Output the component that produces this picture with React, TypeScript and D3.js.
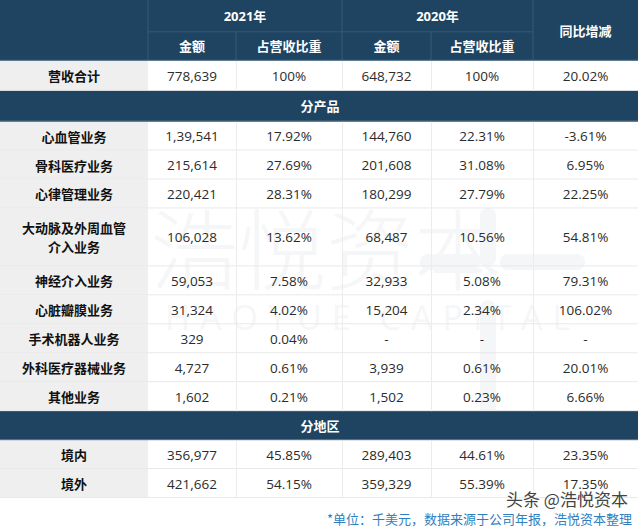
import React from 'react';
import * as d3 from 'd3';

const yearLabels = ['2021年', '2020年'];
const subHeaders = ['金额', '占营收比重'];
const changeHeader = '同比增减';

const totalLabel = '营收合计';
const totalRow = ['778,639', '100%', '648,732', '100%', '20.02%'];

const productSection = '分产品';
const products = ['心血管业务', '骨科医疗业务', '心律管理业务', '大动脉及外周血管|介入业务', '神经介入业务', '心脏瓣膜业务', '手术机器人业务', '外科医疗器械业务', '其他业务'];
const prodAmt2021 = ['1,39,541', '215,614', '220,421', '106,028', '59,053', '31,324', '329', '4,727', '1,602'];
const prodShare2021 = ['17.92%', '27.69%', '28.31%', '13.62%', '7.58%', '4.02%', '0.04%', '0.61%', '0.21%'];
const prodAmt2020 = ['144,760', '201,608', '180,299', '68,487', '32,933', '15,204', '-', '3,939', '1,502'];
const prodShare2020 = ['22.31%', '31.08%', '27.79%', '10.56%', '5.08%', '2.34%', '-', '0.61%', '0.23%'];
const prodChange = ['-3.61%', '6.95%', '22.25%', '54.81%', '79.31%', '106.02%', '-', '20.01%', '6.66%'];

const regionSection = '分地区';
const regions = ['境内', '境外'];
const regAmt2021 = ['356,977', '421,662'];
const regShare2021 = ['45.85%', '54.15%'];
const regAmt2020 = ['289,403', '359,329'];
const regShare2020 = ['44.61%', '55.39%'];
const regChange = ['23.35%', '17.35%'];

const footnote = '*单位：千美元，数据来源于公司年报，浩悦资本整理';

const W = 640;
const H = 529;
const NAVY = '#1e4461';
const FONT = '"Open Sans", "Noto Sans CJK SC", sans-serif';
const CJK = '"Noto Sans CJK SC", sans-serif';

type Row = { kind: 'h1' | 'h2' | 'total' | 'section' | 'data'; label: string; cells?: string[]; units: number };

export default function App() {
  const rows: Row[] = [
    { kind: 'h1', label: '', units: 1.1 },
    { kind: 'h2', label: '', units: 1.0 },
    { kind: 'total', label: totalLabel, cells: totalRow, units: 1.04 },
    { kind: 'section', label: productSection, units: 1.06 },
    ...products.map((p, i) => ({
      kind: 'data' as const,
      label: p,
      cells: [prodAmt2021[i], prodShare2021[i], prodAmt2020[i], prodShare2020[i], prodChange[i]],
      units: p.includes('|') ? 2 : 1,
    })),
    { kind: 'section', label: regionSection, units: 1 },
    ...regions.map((r, i) => ({
      kind: 'data' as const,
      label: r,
      cells: [regAmt2021[i], regShare2021[i], regAmt2020[i], regShare2020[i], regChange[i]],
      units: 1,
    })),
  ];

  const cum = [0];
  rows.forEach((r) => cum.push(cum[cum.length - 1] + r.units));
  const y = d3.scaleLinear([0, cum[cum.length - 1]], [0, 498]);

  // column edges: label col + 5 value cols
  const colEdges = [0, 148, 236, 342, 431, 533, 638];
  const cx = (i: number) => (colEdges[i] + colEdges[i + 1]) / 2;

  const top = (i: number) => y(cum[i]);
  const bot = (i: number) => y(cum[i + 1]);

  return (
    <svg width={W} height={H} style={{ position: 'absolute', left: 0, top: 0, background: '#fff' }} fontFamily={FONT}>
      <rect width={W} height={H} fill="#fff" />
      {/* header block */}
      <rect x={0} y={0} width={colEdges[6]} height={bot(1)} fill={NAVY} />
      <g stroke="#36597a" strokeWidth={1}>
        <line x1={colEdges[1]} x2={colEdges[1]} y1={0} y2={bot(1)} />
        <line x1={colEdges[3]} x2={colEdges[3]} y1={0} y2={bot(1)} />
        <line x1={colEdges[5]} x2={colEdges[5]} y1={0} y2={bot(1)} />
        <line x1={colEdges[2]} x2={colEdges[2]} y1={top(1)} y2={bot(1)} />
        <line x1={colEdges[4]} x2={colEdges[4]} y1={top(1)} y2={bot(1)} />
        <line x1={colEdges[1]} x2={colEdges[5]} y1={top(1)} y2={top(1)} />
      </g>
      <g fill="#fff" fontWeight={700} fontSize={13} textAnchor="middle" dominantBaseline="central">
        {yearLabels.map((t, i) => (
          <text key={t} x={(colEdges[1 + i * 2] + colEdges[3 + i * 2]) / 2} y={(top(0) + bot(0)) / 2}>{t}</text>
        ))}
        {[0, 1, 2, 3].map((i) => (
          <text key={i} x={cx(i + 1)} y={(top(1) + bot(1)) / 2}>{subHeaders[i % 2]}</text>
        ))}
        <text x={cx(5)} y={bot(0) - 1}>{changeHeader}</text>
      </g>

      {/* watermark, drawn under the cell text */}
      {rows.map((r, i) => {
        if (r.kind !== 'data' && r.kind !== 'total') return null;
        return (
          <g key={`bg${i}`}>
            <rect x={0} y={top(i)} width={colEdges[1]} height={bot(i) - top(i)} fill="#efefef" />
            <rect x={colEdges[1]} y={top(i)} width={colEdges[6] - colEdges[1]} height={bot(i) - top(i)} fill="#fff" />
          </g>
        );
      })}
      <g opacity={0.045} fill="#1e4461">
        <text x={150} y={283} fontSize={88} fontFamily={CJK} fontWeight={300}>浩悦资本</text>
        <text x={165} y={330} fontSize={34} letterSpacing={10} fontFamily={FONT}>HAOYUE CAPITAL</text>
        <rect x={480} y={208} width={16} height={58} rx={8} />
        <rect x={480} y={300} width={16} height={120} rx={8} />
        <rect x={420} y={254} width={60} height={16} rx={8} />
        <rect x={500} y={254} width={85} height={16} rx={8} />
      </g>

      {rows.map((r, i) => {
        if (r.kind === 'h1' || r.kind === 'h2') return null;
        const y0 = top(i);
        const y1 = bot(i);
        const ym = (y0 + y1) / 2;
        if (r.kind === 'section') {
          return (
            <g key={i}>
              <rect x={0} y={y0} width={colEdges[6]} height={y1 - y0} fill={NAVY} />
              <text x={W / 2} y={ym} fill="#fff" fontWeight={700} fontSize={13} textAnchor="middle" dominantBaseline="central">{r.label}</text>
            </g>
          );
        }
        const lines = r.label.split('|');
        return (
          <g key={i}>
            <line x1={0} x2={colEdges[6]} y1={y1 - 0.5} y2={y1 - 0.5} stroke="#e9e9e9" />
            {lines.map((l, k) => (
              <text key={k} x={cx(0)} y={ym + (k - (lines.length - 1) / 2) * 19} fontWeight={700} fontSize={13} fill="#111" textAnchor="middle" dominantBaseline="central" fontFamily={CJK}>{l}</text>
            ))}
            {r.cells!.map((c, k) => (
              <text key={k} x={cx(k + 1)} y={ym} fontSize={13.5} fill="#2b2b2b" textAnchor="middle" dominantBaseline="central">{c}</text>
            ))}
          </g>
        );
      })}
      {/* body vertical grid */}
      <g stroke="#ececec">
        {rows.map((r, i) =>
          r.kind === 'data' || r.kind === 'total'
            ? colEdges.slice(2, 6).map((e) => <line key={`${i}-${e}`} x1={e + 0.5} x2={e + 0.5} y1={top(i)} y2={bot(i)} />)
            : null
        )}
      </g>
      {/* separators under navy bands */}
      <g stroke="#5a7890" strokeWidth={1}>
        {rows.map((r, i) =>
          r.kind === 'section' || r.kind === 'h2' ? <line key={i} x1={0} x2={colEdges[6]} y1={bot(i) - 0.5} y2={bot(i) - 0.5} /> : null
        )}
      </g>

      <text x={632} y={518} fontSize={13} fill="#2f7fbf" textAnchor="end" dominantBaseline="central" fontFamily={CJK}>{footnote}</text>
      <text x={506} y={506} fontSize={17} fill="#444" stroke="#fff" strokeWidth={0.6} paintOrder="stroke" fontFamily={CJK}>头条 @浩悦资本</text>
    </svg>
  );
}
